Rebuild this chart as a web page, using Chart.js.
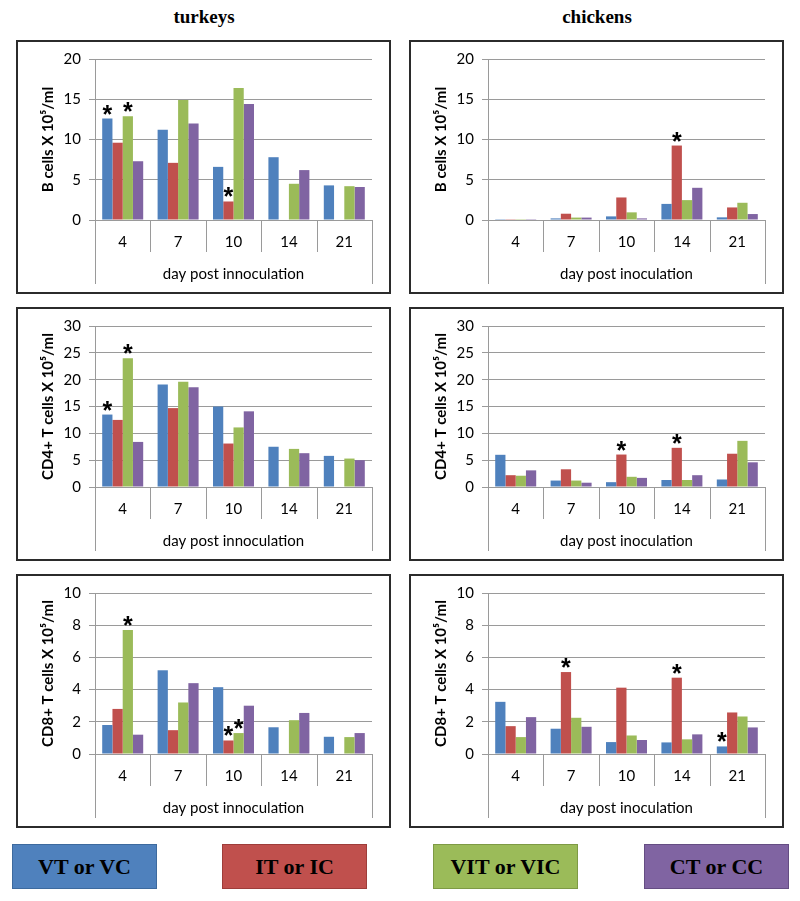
<!DOCTYPE html>
<html>
<head>
<meta charset="utf-8">
<title>Lymphocytes in turkeys and chickens</title>
<script src="https://cdn.jsdelivr.net/npm/chart.js@4.4.1/dist/chart.umd.min.js"></script>
<style>
    body {
        margin: 0;
        width: 800px;
        height: 901px;
        position: relative;
        overflow: hidden;
        background: #fff;
        font-family: Lato, sans-serif;
    }
    .col-title {
        position: absolute;
        top: 6px;
        width: 200px;
        text-align: center;
        font: bold 19px "Liberation Serif", serif;
        color: #000;
    }
    .panel {
        position: absolute;
        width: 375px;
        height: 254px;
        border: 2px solid #2b2b2b;
        box-sizing: border-box;
    }
    .panel canvas { display: block; }
    .key {
        position: absolute;
        top: 844px;
        width: 145px;
        height: 45px;
        box-sizing: border-box;
        display: flex;
        align-items: center;
        justify-content: center;
        font: bold 22px "Liberation Serif", serif;
        color: #000;
    }
</style>
</head>
<body>

<div class="col-title" style="left:104px">turkeys</div>
<div class="col-title" style="left:497px">chickens</div>

<div class="panel" style="left:16px; top:40px"><canvas id="turkeyB" width="371" height="250"></canvas></div>
<div class="panel" style="left:409px; top:40px"><canvas id="chickenB" width="371" height="250"></canvas></div>
<div class="panel" style="left:16px; top:307px"><canvas id="turkeyCD4" width="371" height="250"></canvas></div>
<div class="panel" style="left:409px; top:307px"><canvas id="chickenCD4" width="371" height="250"></canvas></div>
<div class="panel" style="left:16px; top:574px"><canvas id="turkeyCD8" width="371" height="250"></canvas></div>
<div class="panel" style="left:409px; top:574px"><canvas id="chickenCD8" width="371" height="250"></canvas></div>

<div class="key" style="left:12px; background:#4F81BD; border:1px solid #3d6a9e">VT or VC</div>
<div class="key" style="left:222px; background:#C0504D; border:1px solid #9e3d3a">IT or IC</div>
<div class="key" style="left:433px; background:#9BBB59; border:1px solid #7e9a45">VIT or VIC</div>
<div class="key" style="left:644px; background:#8064A2; border:1px solid #654d83">CT or CC</div>

<script>
// days post inoculation (x categories)
const days = ['4', '7', '10', '14', '21'];
const groups = ['VT or VC', 'IT or IC', 'VIT or VIC', 'CT or CC'];
const groupColors = ['#4F81BD', '#C0504D', '#9BBB59', '#8064A2'];
const gridColor = '#9a9a9a';

// each panel: rows are VT, IT, VIT, CT (x 10^5/ml)
const turkeyB = [
    [12.6, 11.2, 6.6, 7.8, 4.3],
    [9.6, 7.1, 2.3, 0, 0],
    [12.9, 14.9, 16.4, 4.5, 4.2],
    [7.3, 12.0, 14.4, 6.2, 4.1]
];
const chickenB = [
    [0.02, 0.2, 0.45, 2.0, 0.33],
    [0.1, 0.78, 2.8, 9.25, 1.56],
    [0.02, 0.3, 0.95, 2.47, 2.14],
    [0.02, 0.3, 0.2, 4.0, 0.74]
];
const turkeyCD4 = [
    [13.5, 19.1, 15.0, 7.5, 5.8],
    [12.5, 14.7, 8.1, 0, 0],
    [24.0, 19.6, 11.1, 7.1, 5.3],
    [8.4, 18.6, 14.1, 6.3, 5.0]
];
const chickenCD4 = [
    [6.0, 1.2, 0.9, 1.3, 1.4],
    [2.2, 3.3, 6.05, 7.3, 6.2],
    [2.1, 1.2, 1.9, 1.3, 8.6],
    [3.1, 0.8, 1.7, 2.2, 4.6]
];
const turkeyCD8 = [
    [1.8, 5.2, 4.15, 1.66, 1.07],
    [2.8, 1.48, 0.84, 0, 0],
    [7.7, 3.2, 1.3, 2.1, 1.05],
    [1.2, 4.4, 3.0, 2.55, 1.3]
];
const chickenCD8 = [
    [3.24, 1.57, 0.74, 0.72, 0.47],
    [1.73, 5.09, 4.12, 4.74, 2.58],
    [1.05, 2.25, 1.15, 0.91, 2.33],
    [2.29, 1.69, 0.87, 1.22, 1.65]
];

// significant differences: [day index, group index]
const turkeyBStars = [[0, 0], [0, 2], [2, 1]];
const chickenBStars = [[3, 1]];
const turkeyCD4Stars = [[0, 0], [0, 2]];
const chickenCD4Stars = [[2, 1], [3, 1]];
const turkeyCD8Stars = [[0, 2], [2, 1], [2, 2]];
const chickenCD8Stars = [[1, 1], [3, 1], [4, 0]];

// Excel-style two level axis: short dividers between days, long ones at the ends
const categoryDividers = {
    id: 'categoryDividers',
    afterDraw(chart) {
        const x = chart.scales.x;
        const area = chart.chartArea;
        const ctx = chart.ctx;
        ctx.save();
        ctx.strokeStyle = gridColor;
        ctx.lineWidth = 1;
        ctx.beginPath();
        for (let i = 0; i < days.length - 1; i++) {
            const px = Math.round((x.getPixelForTick(i) + x.getPixelForTick(i + 1)) / 2) + 0.5;
            ctx.moveTo(px, area.bottom);
            ctx.lineTo(px, area.bottom + 32);
        }
        [area.left, area.right].forEach(edge => {
            const px = Math.round(edge) + 0.5;
            ctx.moveTo(px, area.bottom);
            ctx.lineTo(px, chart.height - 8);
        });
        ctx.stroke();
        ctx.restore();
    }
};

// asterisks above significant bars
const significance = {
    id: 'significance',
    afterDatasetsDraw(chart, args, opts) {
        const ctx = chart.ctx;
        ctx.save();
        ctx.font = 'bold 25px "Liberation Sans", sans-serif';
        ctx.fillStyle = '#000';
        ctx.textAlign = 'center';
        ctx.textBaseline = 'alphabetic';
        (opts.marks || []).forEach(([day, g]) => {
            const bar = chart.getDatasetMeta(g).data[day];
            ctx.fillText('*', bar.x, bar.y + 4);
        });
        ctx.restore();
    }
};

function makePanel(id, series, yMax, yStep, yTitle, xTitle, marks) {
    const canvas = document.getElementById(id);
    new Chart(canvas, {
        type: 'bar',
        data: {
            labels: days,
            datasets: series.map((values, i) => ({
                label: groups[i],
                data: values,
                backgroundColor: groupColors[i],
                borderWidth: 0,
                barPercentage: 1,
                categoryPercentage: 0.74
            }))
        },
        options: {
            responsive: false,
            animation: false,
            layout: { padding: { top: 16, right: 17, left: 0, bottom: 0 } },
            plugins: {
                legend: { display: false },
                tooltip: { enabled: false },
                significance: { marks }
            },
            scales: {
                x: {
                    grid: { display: false, drawTicks: false },
                    border: { color: gridColor },
                    ticks: { color: '#000', font: { family: 'Lato', size: 15 }, padding: 13 },
                    title: {
                        display: true, text: xTitle, color: '#000',
                        font: { family: 'Lato', size: 15 },
                        padding: { top: 0, bottom: 9 }
                    },
                    afterFit(scale) { scale.height = canvas.height - 178; }
                },
                y: {
                    min: 0,
                    max: yMax,
                    ticks: { stepSize: yStep, color: '#000', font: { family: 'Lato', size: 15 }, padding: 8 },
                    grid: { color: gridColor, tickLength: 6, tickColor: gridColor },
                    border: { color: gridColor },
                    title: {
                        display: true, text: yTitle, color: '#000',
                        font: { family: 'Lato', size: 15, weight: 'bold' },
                        padding: { top: 21, bottom: 0 }
                    },
                    afterFit(scale) { scale.width = 77; }
                }
            }
        },
        plugins: [categoryDividers, significance]
    });
}

makePanel('turkeyB', turkeyB, 20, 5, 'B cells X 10\u2075/ml', 'day post innoculation', turkeyBStars);
makePanel('chickenB', chickenB, 20, 5, 'B cells X 10\u2075/ml', 'day post inoculation', chickenBStars);
makePanel('turkeyCD4', turkeyCD4, 30, 5, 'CD4+ T cells X 10\u2075/ml', 'day post innoculation', turkeyCD4Stars);
makePanel('chickenCD4', chickenCD4, 30, 5, 'CD4+ T cells X 10\u2075/ml', 'day post inoculation', chickenCD4Stars);
makePanel('turkeyCD8', turkeyCD8, 10, 2, 'CD8+ T cells X 10\u2075/ml', 'day post innoculation', turkeyCD8Stars);
makePanel('chickenCD8', chickenCD8, 10, 2, 'CD8+ T cells X 10\u2075/ml', 'day post inoculation', chickenCD8Stars);
</script>
</body>
</html>
